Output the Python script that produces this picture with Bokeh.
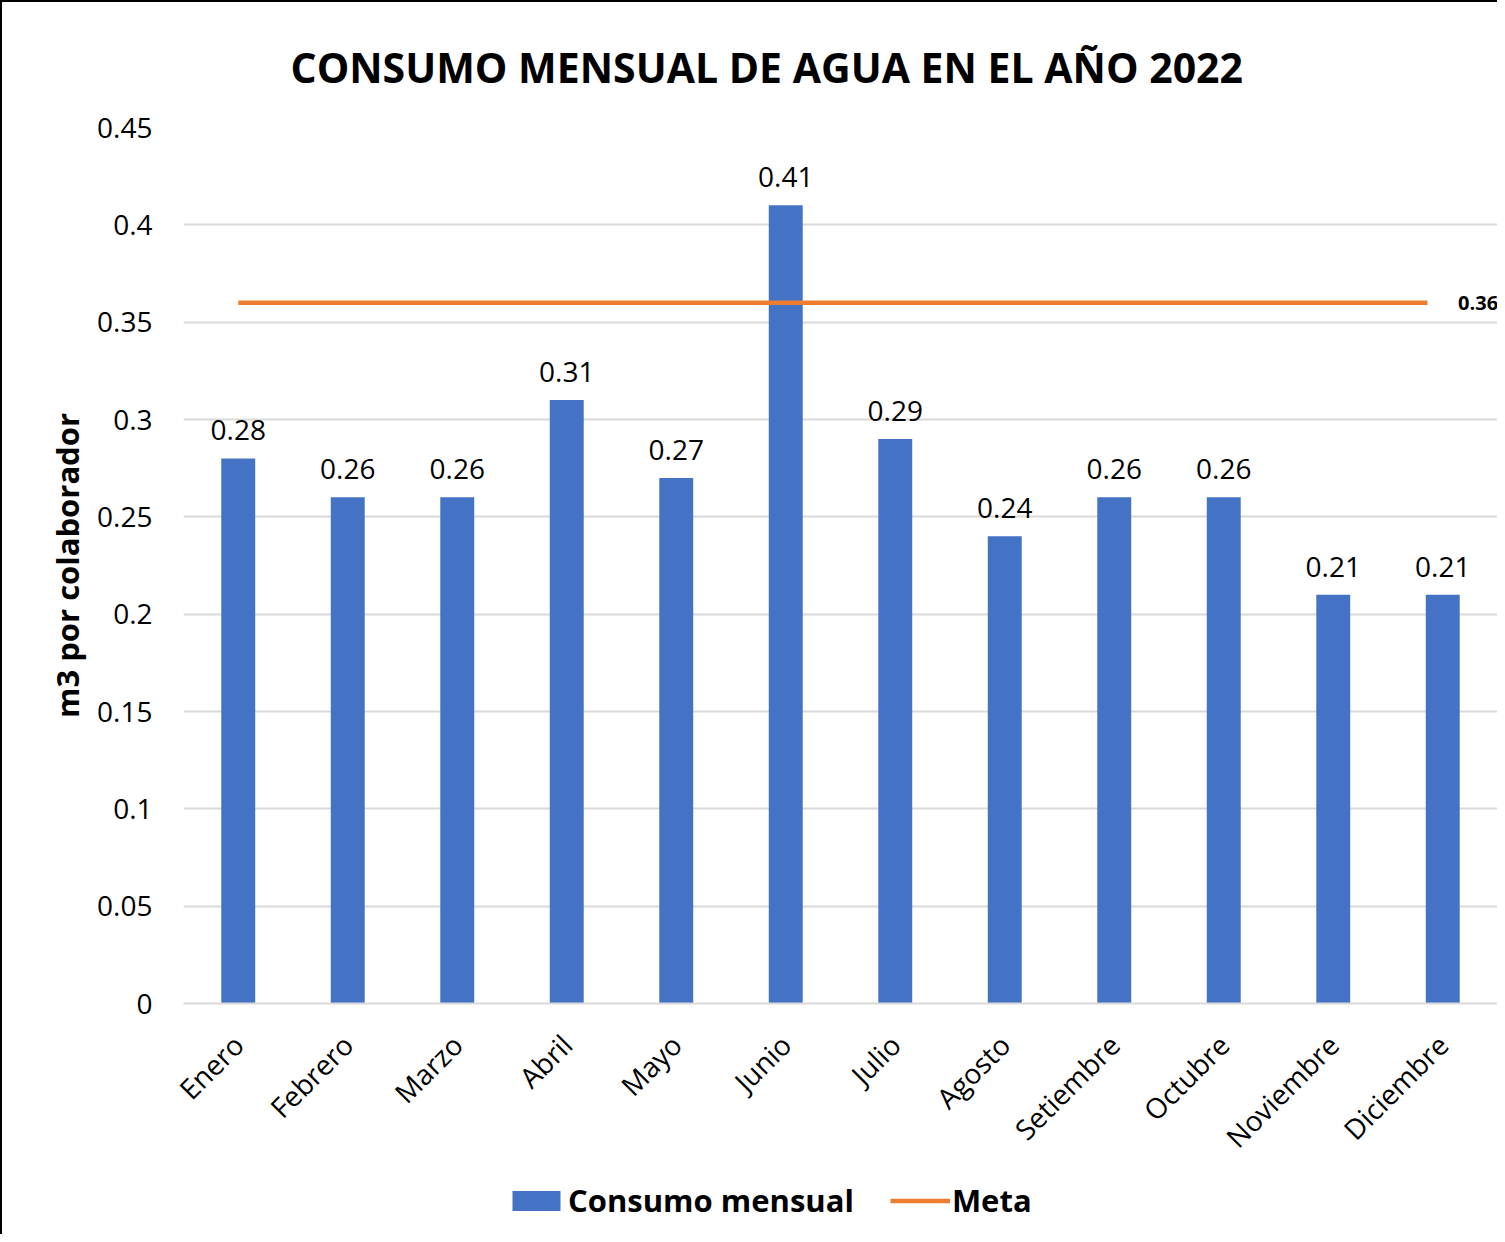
import math
from bokeh.plotting import figure
from bokeh.layouts import column
from bokeh.models import (ColumnDataSource, FactorRange, Range1d, Legend, LegendItem,
                          Label, FixedTicker)
from bokeh.core.properties import value
from bokeh.embed import file_html
from bokeh.resources import INLINE

# ---- data ----
months = ["Enero", "Febrero", "Marzo", "Abril", "Mayo", "Junio", "Julio",
          "Agosto", "Setiembre", "Octubre", "Noviembre", "Diciembre"]
consumo = [0.28, 0.26, 0.26, 0.31, 0.27, 0.41, 0.29, 0.24, 0.26, 0.26, 0.21, 0.21]
meta = 0.36
y_ticks = [0, 0.05, 0.1, 0.15, 0.2, 0.25, 0.3, 0.35, 0.4, 0.45]
y_tick_labels = ["0", "0.05", "0.1", "0.15", "0.2", "0.25", "0.3", "0.35", "0.4", "0.45"]
title_text = "CONSUMO MENSUAL DE AGUA EN EL AÑO 2022"
y_label = "m3 por colaborador"
series_names = ["Consumo mensual", "Meta"]

FONT = "Open Sans"
BLUE = "#4472C4"
ORANGE = "#ED7D31"
GRID = "#D9D9D9"

p = figure(width=1495, height=1170, x_range=FactorRange(factors=months),
           y_range=Range1d(0, 0.45), output_backend="svg", toolbar_location=None,
           min_border_left=181, min_border_right=0, min_border_top=125,
           min_border_bottom=169)
p.outline_line_color = None
p.background_fill_color = "white"
p.border_fill_color = "white"

# title
p.title.text = title_text
p.title.text_font = FONT
p.title.text_font_style = "bold"
p.title.text_font_size = "41px"
p.title.text_color = "black"
p.title.align = "left"
p.title.offset = 107
p.title.standoff = 65

src = ColumnDataSource(dict(x=months, y=consumo, lab=[f"{v:.2f}" for v in consumo]))
p.vbar(x="x", top="y", width=0.31, source=src, fill_color=BLUE, line_color=None)

# meta line
line_x = [(months[0], 0.0), (months[-1], -0.14)]
p.line(x=line_x, y=[meta, meta], line_color=ORANGE, line_width=4.5)

# data labels
p.text(x="x", y="y", text="lab", source=src, text_align="center", text_baseline="bottom",
       y_offset=-18, text_font=value(FONT), text_font_size="28px", text_color="black")

# meta label
p.add_layout(Label(x=len(months) - 0.5 + 0.14, y=meta, text=f"{meta:.2f}",
                   text_align="left", text_baseline="middle", text_font=FONT,
                   text_font_style="bold", text_font_size="20px", text_color="black"))

# axes
p.yaxis.ticker = FixedTicker(ticks=y_ticks)
p.yaxis.major_label_overrides = {t: l for t, l in zip(y_ticks, y_tick_labels)}
p.yaxis.axis_line_color = None
p.yaxis.major_tick_line_color = None
p.yaxis.minor_tick_line_color = None
p.yaxis.major_label_standoff = 25
p.yaxis.major_label_text_font = FONT
p.yaxis.major_label_text_font_size = "28px"
p.yaxis.major_label_text_color = "black"
p.yaxis.axis_label = y_label
p.yaxis.axis_label_text_font = FONT
p.yaxis.axis_label_text_font_style = "bold"
p.yaxis.axis_label_text_font_size = "31px"
p.yaxis.axis_label_text_color = "black"
p.yaxis.axis_label_standoff = 6

p.xaxis.axis_line_color = GRID
p.xaxis.axis_line_width = 2
p.xaxis.major_tick_line_color = None
p.xaxis.minor_tick_line_color = None
p.xaxis.major_label_orientation = math.pi / 4
p.xaxis.major_label_text_font = FONT
p.xaxis.major_label_text_font_size = "28px"
p.xaxis.major_label_text_color = "black"
p.xaxis.major_label_standoff = 30

p.xgrid.grid_line_color = None
p.ygrid.grid_line_color = GRID
p.ygrid.grid_line_width = 2

# legend strip below the chart (its frame is aligned with the chart's frame)
lg = figure(width=1495, height=62, output_backend="svg", toolbar_location=None,
            x_axis_type=None, y_axis_type=None, min_border=0,
            x_range=Range1d(0, 1), y_range=Range1d(0, 1))
lg.outline_line_color = None
lg.grid.grid_line_color = None
r_bar = lg.vbar(x=[5], top=[5], bottom=[4], width=0.3, fill_color=BLUE, line_color=None)
r_line = lg.line(x=[5, 6], y=[5, 5], line_color=ORANGE, line_width=4.5)
legend = Legend(items=[LegendItem(label=series_names[0], renderers=[r_bar]),
                       LegendItem(label=series_names[1], renderers=[r_line])],
                orientation="horizontal", location=(323, 13),
                label_text_font=FONT, label_text_font_style="bold",
                label_text_font_size="31px", label_text_color="black",
                glyph_width=60, glyph_height=25, spacing=36, label_standoff=2,
                padding=0, margin=0,
                border_line_color=None, background_fill_alpha=0)
lg.add_layout(legend)

layout = column(p, lg, spacing=0,
                styles={"border-left": "2px solid black", "border-top": "2px solid black"})
open("out.html", "w").write(file_html(layout, INLINE))
